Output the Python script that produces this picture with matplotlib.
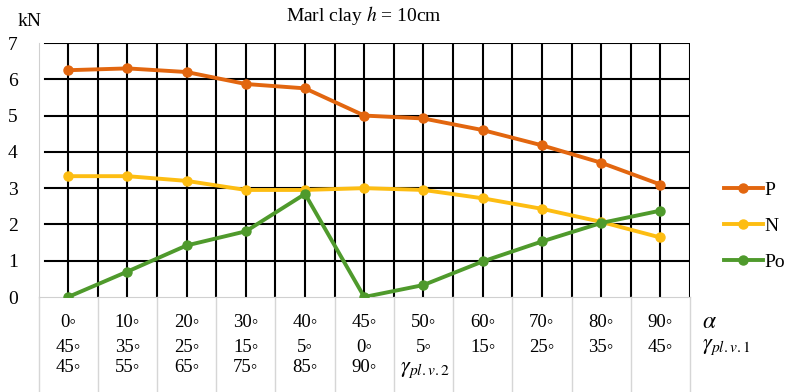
import matplotlib
matplotlib.use('Agg')
import matplotlib.pyplot as plt
import matplotlib.transforms as mtransforms
import numpy as np

plt.rcParams['font.family'] = ['Liberation Serif', 'DejaVu Sans']
plt.rcParams['mathtext.fontset'] = 'stix'

# data
alpha = ['0◦', '10◦', '20◦', '30◦', '40◦', '45◦', '50◦', '60◦', '70◦', '80◦', '90◦']
gamma1 = ['45◦', '35◦', '25◦', '15◦', '5◦', '0◦', '5◦', '15◦', '25◦', '35◦', '45◦']
gamma2 = ['45◦', '55◦', '65◦', '75◦', '85◦', '90◦']
P = [6.25, 6.3, 6.2, 5.87, 5.75, 5.0, 4.92, 4.6, 4.18, 3.7, 3.1]
N = [3.33, 3.33, 3.2, 2.95, 2.95, 3.0, 2.95, 2.72, 2.43, 2.07, 1.64]
Po = [0.0, 0.7, 1.42, 1.81, 2.84, 0.0, 0.33, 0.98, 1.53, 2.04, 2.38]

x = np.arange(len(alpha))

fig = plt.figure(figsize=(7.87, 3.92), dpi=100)
ax = fig.add_axes([38.5/787, 1 - 297/392, (690 - 38.5)/787, 254/392])

ax.plot(x, P, color='#E2660F', lw=2.8, marker='o', ms=6.5, label='P', zorder=5)
ax.plot(x, N, color='#FDBD12', lw=2.8, marker='o', ms=6.5, label='N', zorder=4)
ax.plot(x, Po, color='#4F9A2C', lw=2.8, marker='o', ms=6.5, label='Po', zorder=6)

ax.set_xlim(-0.5, 10.5)
ax.set_ylim(0, 7)
ax.set_yticks(range(0, 8))
ax.set_yticklabels([str(v) for v in range(0, 8)], fontsize=14)
ax.tick_params(axis='y', length=0, pad=15)
ax.set_xticks([])

for v in np.arange(0, 10.6, 0.5):
    ax.axvline(v, color='black', lw=1.5, zorder=1)
for v in range(1, 8):
    ax.axhline(v, xmin=0.01, color='black', lw=1.5, zorder=1)

for s in ['top', 'right']:
    ax.spines[s].set_visible(False)
ax.spines['left'].set_color('#d0d0d0')
ax.spines['bottom'].set_color('#d0d0d0')

ax.set_title('Marl clay $h$ = 10cm', fontsize=14, pad=16)
fig.text(18/787, 1 - 22/392, 'kN', fontsize=14, va='center', ha='left')

# category table below the axis
trans = mtransforms.blended_transform_factory(ax.transData, ax.transAxes)
for b in np.arange(-0.5, 11, 1.0):
    ax.plot([b, b], [0, -0.38], color='#d6d6d6', lw=1, transform=trans, clip_on=False)
for i in x:
    ax.text(i, -0.102, alpha[i], transform=trans, ha='center', va='center', fontsize=13.5)
    ax.text(i, -0.197, gamma1[i], transform=trans, ha='center', va='center', fontsize=13.5)
    if i < len(gamma2):
        ax.text(i, -0.276, gamma2[i], transform=trans, ha='center', va='center', fontsize=13.5)
ax.text(10.7, -0.102, r'$\alpha$', transform=trans, ha='left', va='center', fontsize=17)
ax.text(10.7, -0.197, r'$\gamma_{pl.v.1}$', transform=trans, ha='left', va='center', fontsize=16)
ax.text(5.6, -0.29, r'$\gamma_{pl.v.2}$', transform=trans, ha='left', va='center', fontsize=16)

ax.legend(loc='center left', bbox_to_anchor=(1.04, 0.28), frameon=False, fontsize=14,
          handlelength=2.0, handletextpad=0.1, labelspacing=0.95, borderaxespad=0)

fig.savefig('out.png', dpi=100)
